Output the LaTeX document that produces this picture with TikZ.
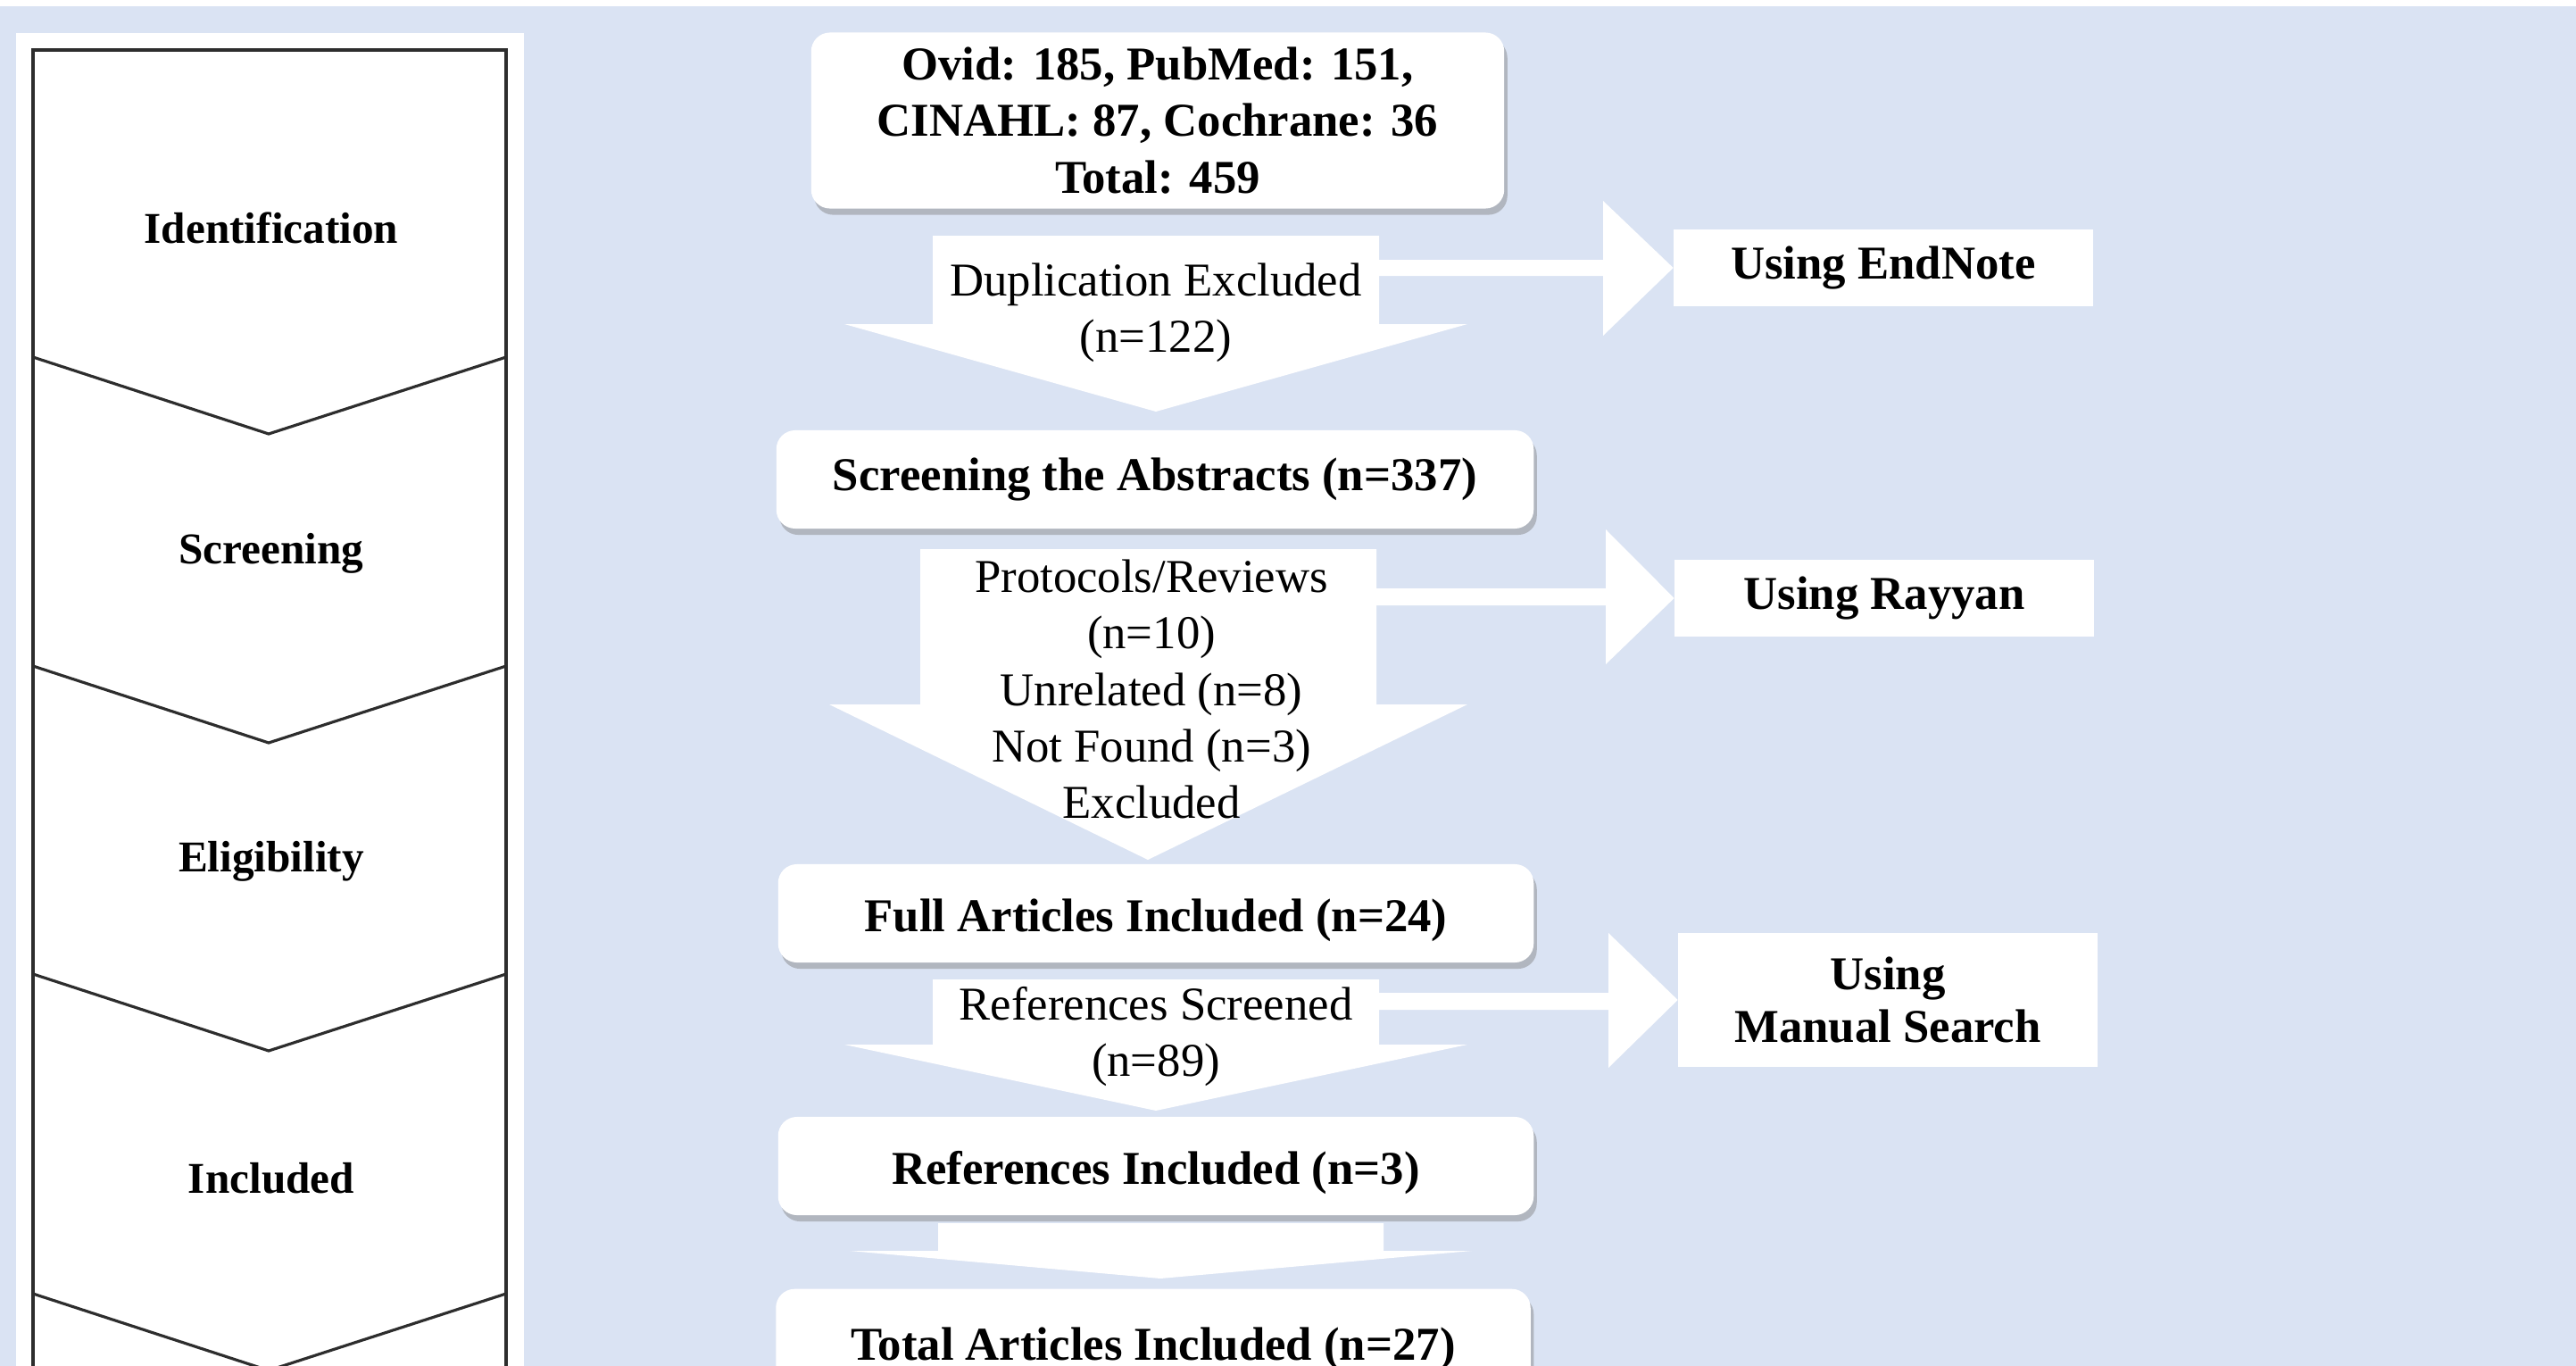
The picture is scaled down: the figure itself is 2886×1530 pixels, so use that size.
\documentclass[tikz,border=0pt]{standalone}
\usepackage{fontspec}
\setmainfont{Liberation Serif}
\usetikzlibrary{positioning,shadows}
\definecolor{bgblue}{RGB}{218,227,243}
\definecolor{chev}{RGB}{45,45,45}

\begin{document}
\begin{tikzpicture}[x=0.01cm,y=-0.01cm,
    box/.style={fill=white,rounded corners=6pt,inner sep=0pt,align=center,font=\fontsize{15pt}{18pt}\selectfont\bfseries,drop shadow={shadow xshift=1pt,shadow yshift=-2pt,opacity=.45}},
    low/.style={text height=0.5cm,text depth=0.1cm},
    side/.style={fill=white,inner sep=0pt,minimum width=4.69cm,align=center,font=\fontsize{15pt}{17pt}\selectfont\bfseries},
    blk/.style={fill=white},
    txt/.style={align=center,font=\fontsize{15pt}{18pt}\selectfont},
    stage/.style={font=\fontsize{14pt}{16pt}\selectfont\bfseries}]
      \clip (0,0) rectangle (2886,1530);
      \fill[bgblue] (0,0) rectangle (2886,1530);
      \fill[white] (0,0) rectangle (2886,7);
      \fill[white] (18,37) rectangle (587,1530);

      % stages on the left
      \draw[chev,line width=0.9pt] (37,1540) -- (37,56) -- (567,56) -- (567,1540);
      \foreach \y in {400,746,1091,1449}
        \draw[chev,line width=0.9pt] (37,\y) -- (301,\y+86) -- (567,\y);
      \node[stage] (ident) at (304,255) {Identification};
      \node[stage] (screen) at (304,620) {Screening};
      \node[stage] (elig) at (304,965) {Eligibility};
      \node[stage] (incl) at (304,1320) {Included};

      % tools
      \node[side,minimum height=0.85cm] (endnote) at (2110,300) {Using EndNote};
      \node[side,minimum height=0.85cm] (rayyan) at (2111,670) {Using Rayyan};
      \node[side,minimum height=1.49cm] (manual) at (2115,1120) {Using\\Manual Search};

      % block arrows
      \fill[blk] (1045,264) -- (1545,264) -- (1545,363) -- (1644,363) -- (1295,461) -- (946,363) -- (1045,363) -- cycle;
      \fill[blk] (1545,291) -- (1796,291) -- (1796,225) -- (endnote.west) -- (1796,376) -- (1796,309) -- (1545,309) -- cycle;
      \fill[blk] (1031,615) -- (1542,615) -- (1542,789) -- (1644,789) -- (1286,963) -- (929,789) -- (1031,789) -- cycle;
      \fill[blk] (1542,659) -- (1799,659) -- (1799,593) -- (rayyan.west) -- (1799,744) -- (1799,678) -- (1542,678) -- cycle;
      \fill[blk] (1045,1097) -- (1545,1097) -- (1545,1170) -- (1644,1170) -- (1295,1244) -- (946,1170) -- (1045,1170) -- cycle;
      \fill[blk] (1545,1112) -- (1802,1112) -- (1802,1045) -- (manual.west) -- (1802,1196) -- (1802,1131) -- (1545,1131) -- cycle;
      \fill[blk] (1051,1370) -- (1550,1370) -- (1550,1401) -- (1649,1401) -- (1300,1432) -- (952,1401) -- (1051,1401) -- cycle;

      \node[txt] (dup) at (1295,350) {Duplication Excluded\\(n=122)};
      \node[txt] (excl) at (1290,772) {Protocols/Reviews\\(n=10)\\Unrelated (n=8)\\Not Found (n=3)\\Excluded};
      \node[txt] (refscr) at (1295,1161) {References Screened\\(n=89)};

      % main boxes
      \node[box,minimum width=7.76cm,minimum height=1.97cm] (src) at (1297,135) {Ovid: 185, PubMed: 151,\\CINAHL: 87, Cochrane: 36\\Total: 459};
      \node[box,minimum width=8.48cm,minimum height=1.1cm] (abs) at (1294,537) {Screening the Abstracts (n=337)};
      \node[box,low,minimum width=8.46cm,minimum height=1.1cm] (full) at (1295,1023) {Full Articles Included (n=24)};
      \node[box,low,minimum width=8.46cm,minimum height=1.1cm] (refinc) at (1295,1306) {References Included (n=3)};
      \node[box,low,minimum width=8.45cm,minimum height=1.2cm,anchor=north] (total) at (1292,1443) {Total Articles Included (n=27)};
\end{tikzpicture}
\end{document}
